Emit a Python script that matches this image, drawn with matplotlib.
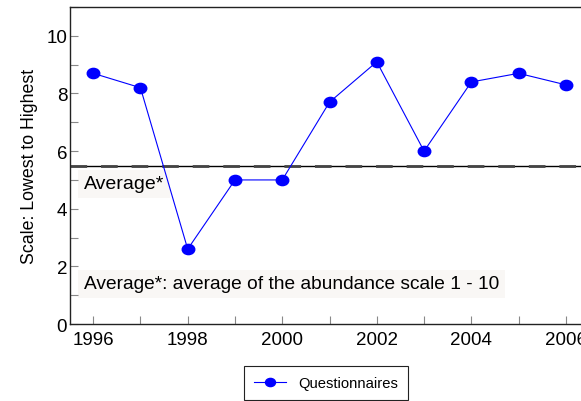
import matplotlib
matplotlib.use("Agg")
import matplotlib.pyplot as plt
from matplotlib.path import Path
from matplotlib.transforms import Affine2D
from matplotlib.ticker import MultipleLocator

plt.rcParams['font.family'] = ['Liberation Sans', 'DejaVu Sans']

# data
years = [1996, 1997, 1998, 1999, 2000, 2001, 2002, 2003, 2004, 2005, 2006]
scores = [8.7, 8.2, 2.6, 5.0, 5.0, 7.7, 9.1, 6.0, 8.4, 8.7, 8.3]
average = 5.5
x_labels = [1996, 1998, 2000, 2002, 2004, 2006]
y_labels = [0, 2, 4, 6, 8, 10]

# slightly wide oval marker like the original
oval = Path.unit_circle().transformed(Affine2D().scale(1.0, 0.82))

fig = plt.figure(figsize=(5.81, 4.02), dpi=100)
ax = fig.add_axes([0.1205, 0.1915, 0.8795, 0.7885])

# average line: solid black with grey dashes on top
ax.axhline(average, color='black', linewidth=1.0, zorder=2)
ax.axhline(average, color='#444444', linewidth=2.0, linestyle=(0, (6, 5)), zorder=2)

ax.plot(years, scores, color='blue', linewidth=0.8, marker=oval, markersize=9,
        markeredgecolor='blue', markerfacecolor='blue', label='Questionnaires', zorder=3)

box = dict(facecolor='#f9f7f5', edgecolor='none', boxstyle='square,pad=0.3')
ax.text(1995.80, 4.86, 'Average*', fontsize=14, va='center', ha='left', bbox=box, zorder=1)
ax.text(1995.80, 1.39, 'Average*: average of the abundance scale 1 - 10', fontsize=13.8,
        va='center', ha='left', bbox=box, zorder=1)

ax.set_xlim(1995.51, 2006.32)
ax.set_ylim(0, 11)
ax.set_xticks(x_labels)
ax.set_yticks(y_labels)
ax.xaxis.set_minor_locator(MultipleLocator(1))
ax.yaxis.set_minor_locator(MultipleLocator(1))
ax.tick_params(axis='both', which='both', direction='in', colors='#888888',
               labelcolor='black', labelsize=13.5, length=6, width=0.8)
ax.tick_params(axis='x', which='major', pad=5)
ax.tick_params(axis='y', which='major', pad=2)

ax.spines['right'].set_visible(False)
for s in ['left', 'bottom', 'top']:
    ax.spines[s].set_color('#222222')
    ax.spines[s].set_linewidth(1.0)

ax.set_ylabel('Scale: Lowest to Highest', fontsize=12.8, labelpad=6)

leg = fig.legend(loc='upper center', bbox_to_anchor=(0.561, 0.106), fontsize=10.6,
                 frameon=True, fancybox=False, edgecolor='#222222', framealpha=1,
                 borderpad=0.7, handlelength=2.2, markerscale=0.8)
leg.get_frame().set_linewidth(0.8)

fig.savefig('out.png', dpi=100)
